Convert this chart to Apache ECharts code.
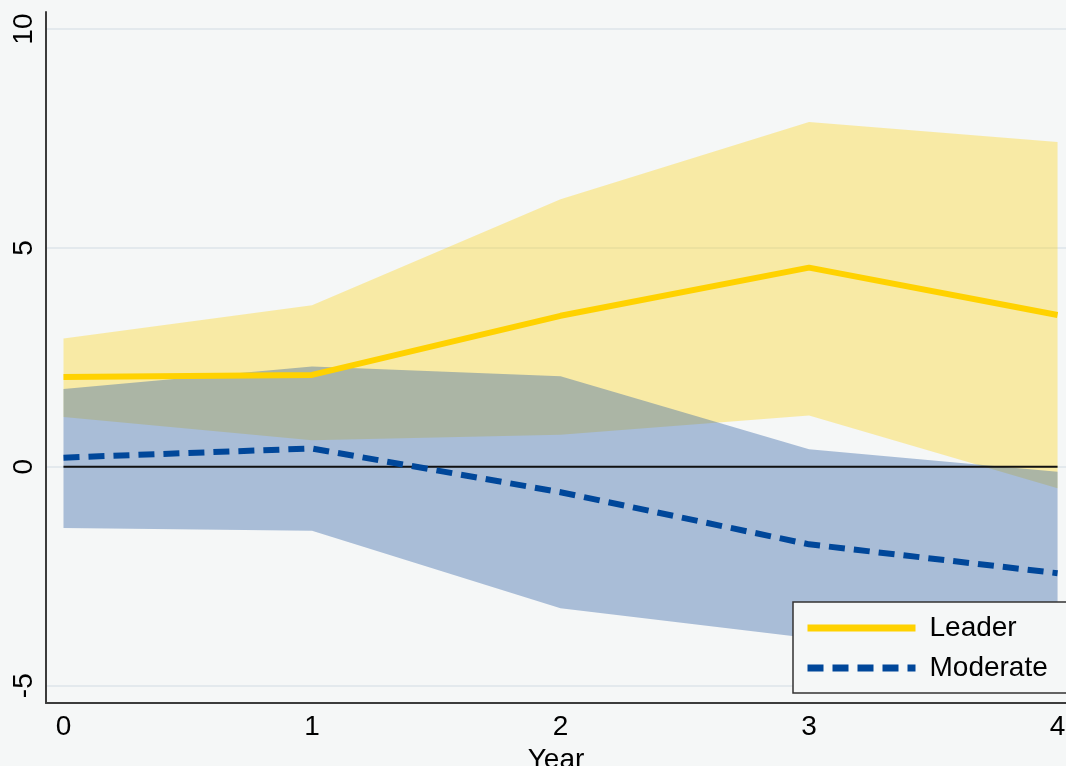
<!DOCTYPE html>
<html><head><meta charset="utf-8">
<script src="https://cdn.jsdelivr.net/npm/echarts@6/dist/echarts.min.js"></script>
<style>html,body{margin:0;padding:0;background:#f5f7f7}#c{width:1066px;height:766px}</style>
</head><body><div id="c"></div>
<script>
const years = [0, 1, 2, 3, 4];
const leader = [2.05, 2.10, 3.45, 4.55, 3.47];
const leaderLower = [1.14, 0.61, 0.73, 1.17, -0.49];
const leaderUpper = [2.93, 3.69, 6.11, 7.88, 7.42];
const moderate = [0.21, 0.42, -0.58, -1.77, -2.43];
const moderateLower = [-1.40, -1.46, -3.23, -3.91, -4.10];
const moderateUpper = [1.78, 2.29, 2.07, 0.40, -0.11];
const zeroLine = [0, 0, 0, 0, 0];
const yTicks = [-5, 0, 5, 10];
const xTicks = [0, 1, 2, 3, 4];

const pairs = arr => years.map((x, i) => [x, arr[i]]);
const FONT = '"Liberation Sans", Arial, sans-serif';

function band(name, lo, hi, fill, z) {
  return {
    name: name, type: 'custom', coordinateSystem: 'cartesian2d', silent: true, z: z,
    data: years.map((x, i) => [x, lo[i], hi[i]]),
    encode: {x: 0, y: [1, 2]},
    renderItem: function (params, api) {
      if (params.dataIndex !== 0) return null;
      const pts = [];
      for (let i = 0; i < years.length; i++) pts.push(api.coord([years[i], hi[i]]));
      for (let i = years.length - 1; i >= 0; i--) pts.push(api.coord([years[i], lo[i]]));
      return {type: 'polygon', shape: {points: pts}, style: {fill: fill}};
    }
  };
}

const chart = echarts.init(document.getElementById('c'), null, {renderer: 'canvas'});
chart.setOption({
  backgroundColor: '#f5f7f7',
  animation: false,
  textStyle: {fontFamily: FONT},
  grid: {left: 46, right: 0, top: 12, bottom: 63, containLabel: false, outerBoundsMode: 'none'},
  xAxis: {
    type: 'value', min: -0.0704, max: 4.034,
    name: 'Year', nameLocation: 'middle', nameGap: 43,
    nameTextStyle: {fontSize: 28, color: '#000', fontFamily: FONT},
    axisLine: {show: true, onZero: false, lineStyle: {color: '#3c3c3c', width: 2}},
    axisTick: {show: false, customValues: xTicks},
    axisLabel: {customValues: xTicks, fontSize: 28, color: '#000', margin: 10, fontFamily: FONT},
    splitLine: {show: false}
  },
  yAxis: {
    type: 'value', min: -5.395, max: 10.39,
    axisLine: {show: true, onZero: false, lineStyle: {color: '#3c3c3c', width: 2}},
    axisTick: {show: false, customValues: yTicks},
    axisLabel: {customValues: yTicks, rotate: 90, fontSize: 28, color: '#000', margin: 8, fontFamily: FONT},
    splitLine: {show: true, lineStyle: {color: '#e3e9ed', width: 2}}
  },
  legend: {
    left: 793, top: 602, orient: 'vertical',
    padding: [11, 40, 10, 11],
    itemWidth: 108, itemHeight: 14, itemGap: 10,
    backgroundColor: '#f5f7f7', borderColor: '#333', borderWidth: 1.5, borderRadius: 0,
    textStyle: {fontSize: 28, color: '#000', lineHeight: 30, fontFamily: FONT, padding: [0, 0, 0, 9]},
    data: [
      {name: 'Leader', itemStyle: {opacity: 0}, lineStyle: {width: 7, color: '#ffd200'}},
      {name: 'Moderate', itemStyle: {opacity: 0}, lineStyle: {width: 7, color: '#00479a', type: [16, 9]}}
    ]
  },
  series: [
    band('LeaderBand', leaderLower, leaderUpper, 'rgba(255,210,0,0.33)', 1),
    band('ModBand', moderateLower, moderateUpper, 'rgba(48,98,165,0.39)', 2),
    {name: 'zero', type: 'line', data: pairs(zeroLine), symbol: 'none',
     lineStyle: {color: '#111', width: 2}, silent: true, z: 3},
    {name: 'Leader', type: 'line', data: pairs(leader), symbol: 'none',
     itemStyle: {color: '#ffd200'},
     lineStyle: {color: '#ffd200', width: 6}, z: 4},
    {name: 'Moderate', type: 'line', data: pairs(moderate), symbol: 'none',
     itemStyle: {color: '#00479a'},
     lineStyle: {color: '#00479a', width: 6, type: [16, 9]}, z: 5}
  ]
});
</script></body></html>
